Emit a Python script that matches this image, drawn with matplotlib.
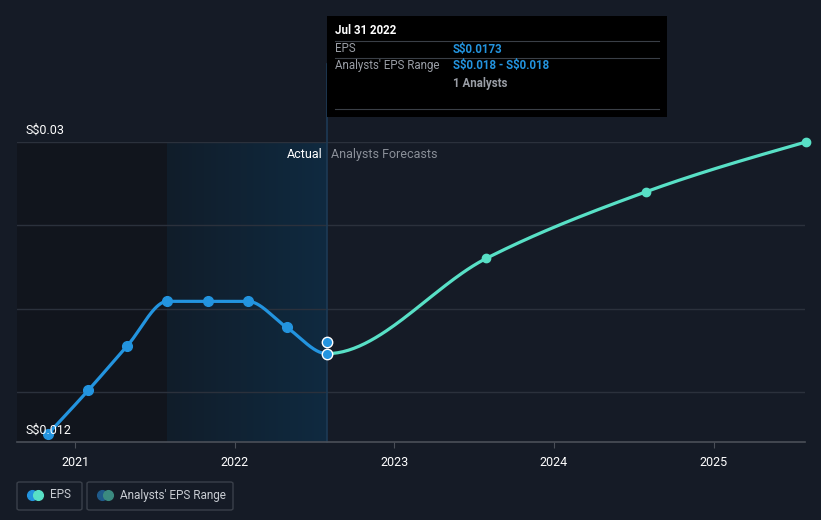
import matplotlib
matplotlib.use("Agg")
import matplotlib.pyplot as plt
import matplotlib.dates as mdates
from matplotlib.patches import Rectangle, FancyBboxPatch
import numpy as np
import pandas as pd

plt.rcParams["font.family"] = ["Roboto", "DejaVu Sans"]

# EPS history (actual) and analysts' forecasts, in S$
actual_dates = ["2020-10-31", "2021-01-31", "2021-04-30", "2021-07-31",
                "2021-10-31", "2022-01-31", "2022-04-30", "2022-07-31"]
actual_eps = [0.01248, 0.0151, 0.01776, 0.02044, 0.02044, 0.02044, 0.01888, 0.0173]

forecast_dates = ["2022-07-31", "2023-07-31", "2024-07-31", "2025-07-31"]
forecast_eps = [0.0173, 0.02302, 0.02702, 0.0300]

range_date = "2022-07-31"
range_eps = 0.0180

year_ticks = ["2021", "2022", "2023", "2024", "2025"]
y_ticks = [0.012, 0.03]
y_tick_labels = ["S\\$0.012", "S\\$0.03"]

BG = "#151b26"
BLUE = "#2394df"
TEAL = "#58e0c6"
GRID = "#2b313c"


def monotone_parts(x, y, n=60):
    # monotone cubic (like d3 curveMonotoneX); returns one piece per segment
    x = np.asarray(x, float)
    y = np.asarray(y, float)
    h = np.diff(x)
    d = np.diff(y) / h
    m = np.zeros_like(y)
    for i in range(1, len(y) - 1):
        p = (d[i - 1] * h[i] + d[i] * h[i - 1]) / (h[i - 1] + h[i])
        m[i] = (np.sign(d[i - 1]) + np.sign(d[i])) * min(abs(d[i - 1]), abs(d[i]), 0.5 * abs(p))
    m[0] = (3 * d[0] - m[1]) / 2
    m[-1] = (3 * d[-1] - m[-2]) / 2
    parts = []
    t = np.linspace(0, 1, n)
    h00 = 2 * t**3 - 3 * t**2 + 1
    h10 = t**3 - 2 * t**2 + t
    h01 = -2 * t**3 + 3 * t**2
    h11 = t**3 - t**2
    for i in range(len(h)):
        parts.append((x[i] + t * h[i],
                      h00 * y[i] + h10 * h[i] * m[i] + h01 * y[i + 1] + h11 * h[i] * m[i + 1]))
    return parts


act_x = mdates.date2num(pd.to_datetime(actual_dates))
fc_x = mdates.date2num(pd.to_datetime(forecast_dates))
rng_x = mdates.date2num(pd.Timestamp(range_date))

fig = plt.figure(figsize=(8.21, 5.2), dpi=100, facecolor=BG)
ax = fig.add_axes([17 / 821, 78 / 520, 788 / 821, 300 / 520])
ax.set_facecolor(BG)

x0 = mdates.date2num(pd.Timestamp("2020-08-21"))
x1 = mdates.date2num(pd.Timestamp("2025-07-29"))

# shaded backgrounds: past region and last-twelve-months region
split1 = mdates.date2num(pd.Timestamp("2021-07-31"))
split2 = mdates.date2num(pd.Timestamp("2022-07-31"))
ax.axvspan(x0, split1, color="#11151d", zorder=0, lw=0)
grad = np.linspace(0, 1, 256).reshape(1, -1)
cmap = matplotlib.colors.LinearSegmentedColormap.from_list("g", ["#111d2a", "#0f2a40"])
ax.imshow(grad, extent=[split1, split2, 0.012, 0.030], aspect="auto", cmap=cmap, zorder=0)
ax.set_xlim(x0, x1)
ax.set_ylim(0.012, 0.030)

for g in [0.015, 0.02, 0.025, 0.03]:
    ax.axhline(g, color=GRID, lw=1, zorder=1)

# vertical marker line through the tooltip
ax.plot([split2, split2], [0.012, 0.0347], color="#1d3a55", lw=1.2, zorder=1, clip_on=False)

# one smooth curve through actual + forecast, coloured by part
all_x = np.concatenate([act_x, fc_x[1:]])
all_y = np.concatenate([actual_eps, forecast_eps[1:]])
parts = monotone_parts(all_x, all_y)
n_act = len(act_x) - 1
bx = np.concatenate([p[0] for p in parts[:n_act]])
by = np.concatenate([p[1] for p in parts[:n_act]])
fx = np.concatenate([p[0] for p in parts[n_act:]])
fy = np.concatenate([p[1] for p in parts[n_act:]])
ax.plot(bx, by, color=BLUE, lw=2.3, zorder=3, solid_capstyle="round")
ax.plot(fx, fy, color=TEAL, lw=2.3, zorder=3, clip_on=False)
ax.plot(act_x[:-1], actual_eps[:-1], "o", color=BLUE, ms=7, zorder=4, clip_on=False)
ax.plot(fc_x[1:], forecast_eps[1:], "o", color=TEAL, ms=6, zorder=4, clip_on=False)

ax.plot([act_x[-1]], [actual_eps[-1]], "o", color=BLUE, mec="white", mew=1, ms=7.5, zorder=5)
ax.plot([rng_x], [range_eps], "o", color=BLUE, mec="white", mew=1, ms=7.5, zorder=5)

for s in ["top", "right", "left"]:
    ax.spines[s].set_visible(False)
ax.spines["bottom"].set_color("#4a4f58")
ax.spines["bottom"].set_linewidth(1.2)

ax.set_xticks(mdates.date2num(pd.to_datetime([y + "-01-01" for y in year_ticks])))
ax.set_xticklabels(year_ticks)
ax.tick_params(axis="x", colors="#4a4f58", length=4, pad=6, labelcolor="white", labelsize=9)
ax.set_yticks([])

for v, lab in zip(y_ticks, y_tick_labels):
    ax.text(25 / 821, (520 - (442 - 300 * (v - 0.012) / 0.018) + 12) / 520, lab,
            transform=fig.transFigure, color="white", fontsize=9, va="center", ha="left", zorder=6)

ax.text(split2 - 9, 0.02925, "Actual", color="white", fontsize=9, ha="right", va="center")
ax.text(split2 + 9, 0.02925, "Analysts Forecasts", color="#8a8f98", fontsize=9, ha="left", va="center")

# tooltip
fig.patches.append(Rectangle((327 / 821, (520 - 117) / 520), 340 / 821, 101 / 520,
                             transform=fig.transFigure, facecolor="black", edgecolor="none", zorder=10))
for yy in [41, 58, 109]:
    fig.add_artist(plt.Line2D([335 / 821, 659 / 821], [(520 - yy) / 520] * 2,
                              color="#3a3f47", lw=0.8, zorder=11))


def ft(x, y, s, c, bold=False):
    fig.text(x / 821, (520 - y) / 520, s, color=c, fontsize=8.3, va="center", ha="left",
             fontweight="bold" if bold else "normal", zorder=12)


ft(335, 31, "Jul 31 2022", "white", True)
ft(335, 49, "EPS", "#9a9ea6")
ft(453, 49, "S\\$0.0173", BLUE, True)
ft(335, 66, "Analysts' EPS Range", "#9a9ea6")
ft(453, 66, "S\\$0.018 - S\\$0.018", BLUE, True)
ft(453, 83, "1 Analysts", "#9a9ea6", True)

# legend boxes
for (lx, lw_, lab, c1, c2) in [(17, 65, "EPS", BLUE, TEAL),
                               (87, 146, "Analysts' EPS Range", "#1f5a8a", "#3b8a80")]:
    fig.patches.append(FancyBboxPatch((lx / 821, (520 - 510) / 520), lw_ / 821, 28 / 520,
                                      boxstyle="round,pad=0,rounding_size=0.003",
                                      transform=fig.transFigure, facecolor="none",
                                      edgecolor="#3a404a", lw=1))
    fig.add_artist(plt.Line2D([(lx + 15) / 821], [(520 - 495) / 520], marker="o", ms=7,
                              color=c1, lw=0))
    fig.add_artist(plt.Line2D([(lx + 21) / 821], [(520 - 495) / 520], marker="o", ms=7,
                              color=c2, lw=0))
    fig.text((lx + 33) / 821, (520 - 495) / 520, lab, color="#c8ccd2", fontsize=8.5,
             va="center", ha="left")

fig.savefig("out.png", dpi=100, facecolor=BG)
